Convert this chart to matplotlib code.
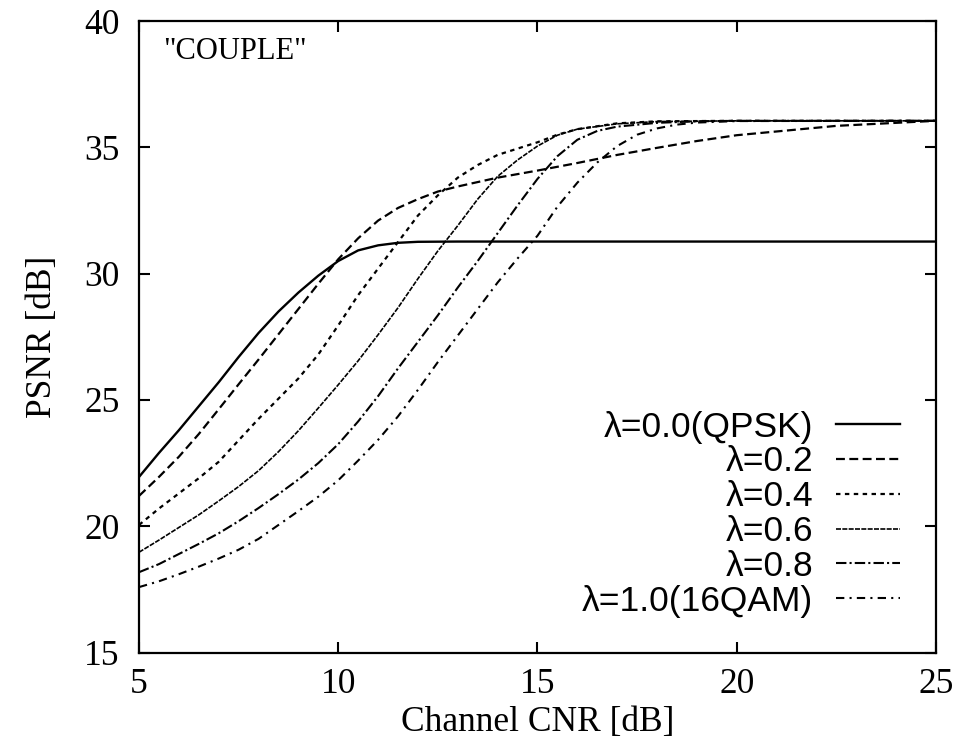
import matplotlib
matplotlib.use("Agg")
import matplotlib.pyplot as plt

# ---- data ----
x_00 = [5, 5.5, 6, 6.5, 7, 7.5, 8, 8.5, 9, 9.5, 10, 10.5, 11, 11.5, 12, 13, 15, 20, 25]
y_00 = [21.95, 22.9, 23.8, 24.75, 25.7, 26.7, 27.65, 28.5, 29.25, 29.92, 30.5, 30.92, 31.12, 31.22, 31.26, 31.27, 31.27, 31.27, 31.27]

x_02 = [5, 5.5, 6, 6.5, 7, 7.5, 8, 8.5, 9, 9.5, 10, 10.5, 11, 11.5, 12, 12.5, 13, 14, 15, 16, 17, 18, 19, 20, 22.5, 25]
y_02 = [21.2, 21.95, 22.75, 23.65, 24.63, 25.62, 26.6, 27.6, 28.6, 29.6, 30.57, 31.4, 32.1, 32.6, 32.95, 33.25, 33.45, 33.8, 34.08, 34.38, 34.7, 34.98, 35.25, 35.48, 35.85, 36.05]

x_04 = [5, 5.5, 6, 6.5, 7, 7.5, 8, 8.5, 9, 9.5, 10, 10.5, 11, 11.5, 12, 12.5, 13, 13.5, 14, 15, 15.5, 16, 17, 18, 20, 25]
y_04 = [20.05, 20.7, 21.3, 21.9, 22.55, 23.4, 24.25, 25.05, 25.85, 26.8, 27.95, 29.15, 30.2, 31.25, 32.3, 33.1, 33.8, 34.3, 34.7, 35.2, 35.5, 35.72, 35.95, 36.03, 36.05, 36.05]

x_06 = [5, 5.5, 6, 6.5, 7, 7.5, 8, 8.5, 9, 9.5, 10, 10.5, 11, 11.5, 12, 12.5, 13, 13.5, 14, 14.5, 15, 15.5, 16, 17, 18, 20, 25]
y_06 = [18.97, 19.45, 19.95, 20.45, 21.0, 21.57, 22.2, 22.95, 23.78, 24.68, 25.6, 26.55, 27.58, 28.65, 29.8, 30.9, 31.9, 32.95, 33.85, 34.5, 35.05, 35.48, 35.72, 35.93, 36.02, 36.05, 36.05]

x_08 = [5, 5.5, 6, 6.5, 7, 7.5, 8, 8.5, 9, 9.5, 10, 10.5, 11, 11.5, 12, 12.5, 13, 13.5, 14, 14.5, 15, 15.5, 16, 16.5, 17, 18, 19, 20, 25]
y_08 = [18.18, 18.5, 18.9, 19.3, 19.72, 20.2, 20.72, 21.27, 21.85, 22.5, 23.25, 24.15, 25.15, 26.25, 27.3, 28.35, 29.45, 30.5, 31.6, 32.7, 33.75, 34.65, 35.3, 35.65, 35.82, 35.97, 36.03, 36.05, 36.05]

x_10 = [5, 5.5, 6, 6.5, 7, 7.5, 8, 8.5, 9, 9.5, 10, 10.5, 11, 11.5, 12, 12.5, 13, 13.5, 14, 14.5, 15, 15.5, 16, 16.5, 17, 17.5, 18, 18.5, 19, 20, 25]
y_10 = [17.59, 17.82, 18.1, 18.4, 18.72, 19.07, 19.5, 20.05, 20.6, 21.17, 21.82, 22.6, 23.42, 24.35, 25.4, 26.5, 27.55, 28.6, 29.65, 30.6, 31.5, 32.65, 33.6, 34.4, 35.05, 35.5, 35.75, 35.9, 35.98, 36.04, 36.05]

labels = ["λ=0.0(QPSK)", "λ=0.2", "λ=0.4", "λ=0.6", "λ=0.8", "λ=1.0(16QAM)"]
x_ticks = [5, 10, 15, 20, 25]
y_ticks = [15, 20, 25, 30, 35, 40]

series = [(x_00, y_00), (x_02, y_02), (x_04, y_04), (x_06, y_06), (x_08, y_08), (x_10, y_10)]
styles = [
    dict(linestyle="-", lw=1.7),
    dict(linestyle=(0, (4, 2)), lw=1.6),
    dict(linestyle=(0, (2, 2)), lw=1.6),
    dict(linestyle=(0, (3, 0.8)), lw=1.2),
    dict(linestyle=(0, (5, 1.5, 1, 1.5)), lw=1.5),
    dict(linestyle=(0, (4, 2.5, 1, 2.5)), lw=1.5),
]

serif = ["Liberation Serif", "DejaVu Serif"]
sans = ["Liberation Sans", "DejaVu Sans"]

fig = plt.figure(figsize=(9.58, 7.46), dpi=100)
ax = fig.add_axes([0.1451, 0.1253, 0.8319, 0.8465])

for (xs, ys), lab, st in zip(series, labels, styles):
    ax.plot(xs, ys, color="black", label=lab, **st)

ax.set_xlim(5, 25)
ax.set_ylim(15, 40)
ax.set_xticks(x_ticks)
ax.set_yticks(y_ticks)
ax.tick_params(direction="in", length=8, width=1.5, top=True, right=True,
               labelsize=25.5)
ax.tick_params(axis="y", pad=14)
ax.tick_params(axis="x", pad=11)
for lab in ax.get_xticklabels() + ax.get_yticklabels():
    lab.set_fontfamily(serif)
for sp in ax.spines.values():
    sp.set_linewidth(1.6)

ax.set_xlabel("Channel CNR [dB]", fontsize=25.5, family=serif, labelpad=4)
ax.set_ylabel("PSNR [dB]", fontsize=25.5, family=serif, labelpad=18)

ax.text(0.03, 0.975, '"COUPLE"', transform=ax.transAxes, ha="left", va="top",
        fontsize=22, family=serif)

leg = ax.legend(loc="upper right", bbox_to_anchor=(0.955, 0.383),
                frameon=False, markerfirst=False,
                prop={"family": sans, "size": 25.5},
                handlelength=1.8, handletextpad=0.65, labelspacing=0.05,
                borderpad=0, borderaxespad=0)

fig.savefig("out.png", dpi=100)
